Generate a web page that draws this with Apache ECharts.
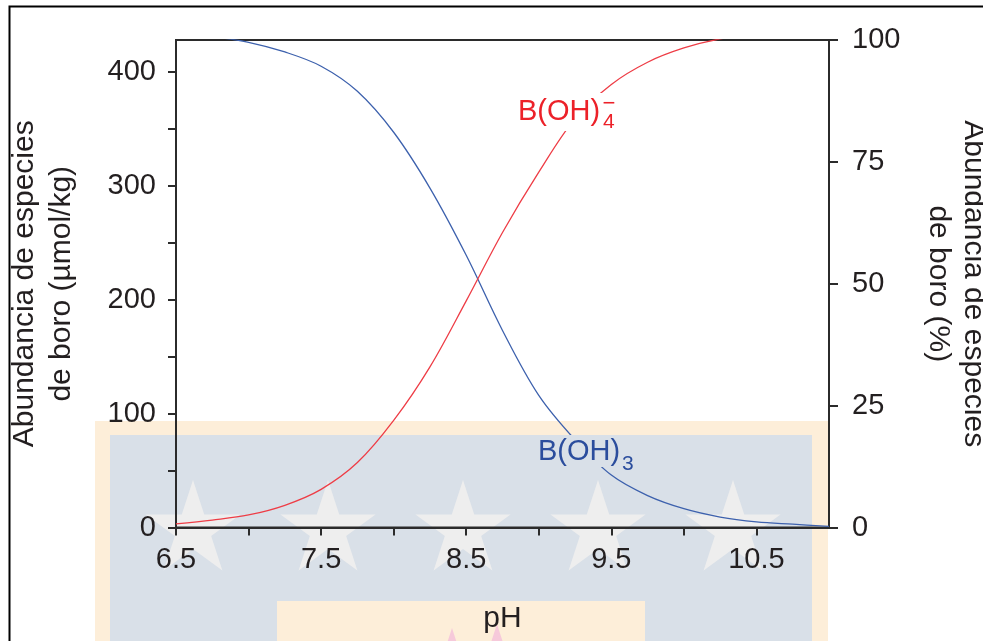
<!DOCTYPE html>
<html>
<head>
<meta charset="utf-8">
<script src="https://cdn.jsdelivr.net/npm/echarts@6/dist/echarts.min.js"></script>
<style>
  html, body { margin: 0; padding: 0; background: #ffffff; }
  #chart { width: 983px; height: 641px; }
</style>
</head>
<body>
<div id="chart"></div>
<script>
// Boric acid / borate speciation in seawater against pH (µmol/kg)
const ph   = [6.50, 6.75, 7.00, 7.25, 7.50, 7.75, 8.00, 8.25, 8.50, 8.75, 9.00, 9.25, 9.50, 9.75, 10.00, 10.25, 10.50, 10.75, 11.00];
const boh3 = [435, 431, 426, 417.5, 405, 383, 347, 298, 239, 173, 116, 77, 46, 28, 16.5, 9.2, 5.0, 2.9, 1.0];
const boh4 = [3.1, 6.5, 11.0, 19.5, 33.5, 57, 94, 141, 199, 259, 312, 359, 389, 408.5, 421, 429, 433, 435.5, 437];

const xTickValues  = [6.5, 7, 7.5, 8, 8.5, 9, 9.5, 10, 10.5];
const xLabelValues = [6.5, 7.5, 8.5, 9.5, 10.5];
const yLeftTicks   = [0, 50, 100, 150, 200, 250, 300, 350, 400];
const yLeftLabels  = [0, 100, 200, 300, 400];
const yRightLabels = [0, 25, 50, 75, 100];

const FONT = '"Liberation Sans", Arial, Helvetica, sans-serif';
const INK = '#231f20';
const RED_LINE = '#ee3d46', RED_TEXT = '#ec2129';
const BLUE_LINE = '#3d61ad', BLUE_TEXT = '#2b4d9d';
const WM_BLUE = '#d9e0e8', WM_BEIGE = '#fdeed9', WM_STAR = '#eeeeee', WM_PINK = '#f6c9da';

function pairs(xs, ys) { return xs.map((x, i) => [x, ys[i]]); }

function starPoints(cx, cy, R) {
  const r = R * 0.382, pts = [];
  for (let i = 0; i < 10; i++) {
    const a = -Math.PI / 2 + i * Math.PI / 5;
    const rad = i % 2 === 0 ? R : r;
    pts.push([cx + rad * Math.cos(a), cy + rad * Math.sin(a)]);
  }
  return pts;
}

// background seal: bordered panel with a row of stars
const watermark = [
  { type: 'rect', z: -5, silent: true, shape: { x: 95, y: 421, width: 733, height: 230 }, style: { fill: WM_BEIGE } },
  { type: 'rect', z: -5, silent: true, shape: { x: 110, y: 435, width: 702, height: 220 }, style: { fill: WM_BLUE } },
  { type: 'rect', z: -5, silent: true, shape: { x: 277, y: 601, width: 368, height: 50 }, style: { fill: WM_BEIGE } }
];
[193, 328, 463, 598, 733].forEach(cx => {
  watermark.push({ type: 'polygon', z: -4, silent: true, shape: { points: starPoints(cx, 530, 50) }, style: { fill: WM_STAR } });
});
[[452, 678], [497, 674]].forEach(([cx, cy]) => {
  watermark.push({ type: 'polygon', z: -4, silent: true, shape: { points: starPoints(cx, cy, 50) }, style: { fill: WM_PINK } });
});

const annotations = [
  // outer frame
  { type: 'polyline', z: 20, silent: true, shape: { points: [[9.5, 660], [9.5, 6.5], [1000, 6.5]] }, style: { stroke: '#000', lineWidth: 2, fill: null } },
  // label backings that break the curves
  { type: 'rect', z: 5, silent: true, shape: { x: 512, y: 93, width: 112, height: 38 }, style: { fill: '#ffffff' } },
  { type: 'rect', z: 5, silent: true, shape: { x: 533, y: 435, width: 112, height: 32 }, style: { fill: WM_BLUE } },
  // B(OH)4-
  { type: 'text', z: 6, x: 518, y: 111.5, style: { text: 'B(OH)', font: '29px ' + FONT, fill: RED_TEXT, align: 'left', verticalAlign: 'middle' } },
  { type: 'text', z: 6, x: 603, y: 122.5, style: { text: '4', font: '21px ' + FONT, fill: RED_TEXT, align: 'left', verticalAlign: 'middle' } },
  { type: 'text', z: 6, x: 609, y: 104, style: { text: '\u2212', font: '22px ' + FONT, fill: RED_TEXT, align: 'center', verticalAlign: 'middle' } },
  // B(OH)3
  { type: 'text', z: 6, x: 538, y: 451.5, style: { text: 'B(OH)', font: '29px ' + FONT, fill: BLUE_TEXT, align: 'left', verticalAlign: 'middle' } },
  { type: 'text', z: 6, x: 622, y: 464, style: { text: '3', font: '21px ' + FONT, fill: BLUE_TEXT, align: 'left', verticalAlign: 'middle' } }
];

const axisLineStyle = { show: true, lineStyle: { color: '#2b2b2b', width: 2 } };
const tickStyle = { lineStyle: { color: '#2b2b2b', width: 2 } };

const chart = echarts.init(document.getElementById('chart'), null, { renderer: 'canvas' });
chart.setOption({
  animation: false,
  backgroundColor: '#ffffff',
  textStyle: { fontFamily: FONT },
  grid: {
    left: 176, right: 154, top: 40, bottom: 113.5,
    show: true, borderColor: '#2b2b2b', borderWidth: 2, backgroundColor: 'transparent',
    containLabel: false, outerBoundsMode: 'none'
  },
  xAxis: {
    type: 'value', min: 6.5, max: 11,
    name: 'pH', nameLocation: 'middle', nameGap: 76,
    nameTextStyle: { fontSize: 30, color: INK, fontFamily: FONT, lineHeight: 30 },
    axisLine: axisLineStyle,
    axisTick: Object.assign({ show: true, inside: false, length: 8, customValues: xTickValues }, tickStyle),
    axisLabel: { fontSize: 29, color: INK, fontFamily: FONT, margin: 18, customValues: xLabelValues },
    splitLine: { show: false }
  },
  yAxis: [
    {
      type: 'value', min: 0, max: 428, position: 'left',
      name: 'Abundancia de especies\nde boro (µmol/kg)', nameLocation: 'middle', nameRotate: 90, nameGap: 96,
      nameTextStyle: { fontSize: 30, color: INK, fontFamily: FONT, lineHeight: 37, align: 'center' },
      axisLine: axisLineStyle,
      axisTick: Object.assign({ show: true, inside: false, length: 8, customValues: yLeftTicks }, tickStyle),
      axisLabel: { fontSize: 29, color: INK, fontFamily: FONT, margin: 20, customValues: yLeftLabels },
      splitLine: { show: false }
    },
    {
      type: 'value', min: 0, max: 100, position: 'right',
      name: 'Abundancia de especies\nde boro (%)', nameLocation: 'middle', nameRotate: -90, nameGap: 92,
      nameTextStyle: { fontSize: 30, color: INK, fontFamily: FONT, lineHeight: 35, align: 'center' },
      axisLine: axisLineStyle,
      axisTick: Object.assign({ show: true, inside: false, length: 9, customValues: yRightLabels }, tickStyle),
      axisLabel: { fontSize: 29, color: INK, fontFamily: FONT, margin: 23, customValues: yRightLabels },
      splitLine: { show: false }
    }
  ],
  graphic: { elements: watermark.concat(annotations) },
  series: [
    {
      name: 'B(OH)3', type: 'line', yAxisIndex: 0, data: pairs(ph, boh3),
      showSymbol: false, smooth: 0.35, clip: true,
      lineStyle: { color: BLUE_LINE, width: 1.3 }, z: 2
    },
    {
      name: 'B(OH)4-', type: 'line', yAxisIndex: 0, data: pairs(ph, boh4),
      showSymbol: false, smooth: 0.35, clip: true,
      lineStyle: { color: RED_LINE, width: 1.3 }, z: 2
    }
  ]
});
</script>
</body>
</html>
